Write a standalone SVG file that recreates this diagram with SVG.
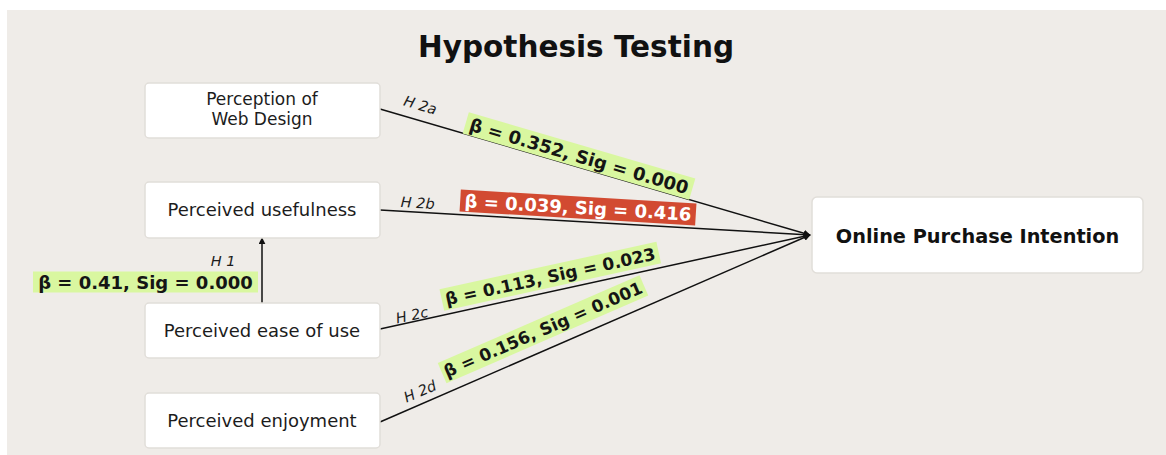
<svg xmlns="http://www.w3.org/2000/svg" width="1166" height="455" viewBox="0 0 1166 455">
  <defs>
    <style>
      .bg { fill: #efece8; }
      .node rect { fill: #ffffff; stroke: #e1ded9; stroke-width: 1.5; }
      .node text { font-family: "DejaVu Sans", "Liberation Sans", sans-serif; font-size: 18px; fill: #1c1c1c; text-anchor: middle; }
      .node.two text { font-size: 17px; }
      .node.main text { font-weight: bold; font-size: 19.3px; fill: #111111; }
      .title { font-family: "DejaVu Sans", "Liberation Sans", sans-serif; font-weight: bold; font-size: 29.5px; fill: #111111; text-anchor: middle; }
      .edge { stroke: #111111; stroke-width: 1.5; fill: none; }
      .hlab { font-family: "DejaVu Sans", "Liberation Sans", sans-serif; font-style: italic; font-size: 14.5px; fill: #1c1c1c; text-anchor: middle; }
      .stat { font-family: "DejaVu Sans", "Liberation Sans", sans-serif; font-weight: bold; font-size: 18px; fill: #151515; text-anchor: middle; }
      .stat.sm { font-size: 17px; }
      .ok { fill: #d9f7a0; }
      .bad { fill: #d24a31; }
      .stat.onbad { fill: #ffffff; }
    </style>
    <marker id="arrow" viewBox="0 0 10 10" refX="9" refY="5" markerWidth="7" markerHeight="7" markerUnits="userSpaceOnUse" orient="auto">
      <path d="M0,0 L10,5 L0,10 z" fill="#111111"/>
    </marker>
  </defs>

  <rect class="bg" x="7" y="10" width="1159" height="445"/>

  <text class="title" x="576" y="57">Hypothesis Testing</text>

  <!-- connectors -->
  <g id="connectors">
    <line class="edge" x1="380" y1="109" x2="810" y2="235" marker-end="url(#arrow)"/>
    <line class="edge" x1="380" y1="210" x2="810" y2="235" marker-end="url(#arrow)"/>
    <line class="edge" x1="380" y1="329" x2="810" y2="235" marker-end="url(#arrow)"/>
    <line class="edge" x1="380" y1="422" x2="810" y2="235" marker-end="url(#arrow)"/>
    <line class="edge" x1="262" y1="303" x2="262" y2="238" marker-end="url(#arrow)"/>

    <!-- hypothesis tags -->
    <text class="hlab" transform="translate(419,110) rotate(16)">H 2a</text>
    <text class="hlab" transform="translate(417.5,208) rotate(3)">H 2b</text>
    <text class="hlab" transform="translate(413,320) rotate(-12)">H 2c</text>
    <text class="hlab" transform="translate(422,396) rotate(-23.5)">H 2d</text>
    <text class="hlab" x="223" y="266">H 1</text>

    <!-- coefficient labels -->
    <g transform="translate(579,156) rotate(16.33)">
      <rect class="ok" x="-118" y="-11" width="236" height="22"/>
      <text class="stat" y="6.5">β = 0.352, Sig = 0.000</text>
    </g>
    <g transform="translate(578,207.5) rotate(3.4)">
      <rect class="bad" x="-118" y="-11" width="236" height="22"/>
      <text class="stat onbad" y="6.5">β = 0.039, Sig = 0.416</text>
    </g>
    <g transform="translate(550.3,276.3) rotate(-12.33)">
      <rect class="ok" x="-111" y="-11" width="222" height="22"/>
      <text class="stat sm" y="6.2">β = 0.113, Sig = 0.023</text>
    </g>
    <g transform="translate(543,329.3) rotate(-23.5)">
      <rect class="ok" x="-110" y="-11" width="220" height="22"/>
      <text class="stat sm" y="6.2">β = 0.156, Sig = 0.001</text>
    </g>
    <g transform="translate(145.5,282)">
      <rect class="ok" x="-112.5" y="-10.5" width="225" height="21"/>
      <text class="stat" y="6.5">β = 0.41, Sig = 0.000</text>
    </g>
  </g>

  <!-- nodes -->
  <g id="web-design" class="node two">
    <rect x="145" y="83" width="235" height="55" rx="4"/>
    <text x="262" y="105">Perception of</text>
    <text x="262" y="125">Web Design</text>
  </g>
  <g id="usefulness" class="node">
    <rect x="145" y="182" width="235" height="56" rx="4"/>
    <text x="262" y="216">Perceived usefulness</text>
  </g>
  <g id="ease-of-use" class="node">
    <rect x="145" y="303" width="235" height="55" rx="4"/>
    <text x="262" y="337">Perceived ease of use</text>
  </g>
  <g id="enjoyment" class="node">
    <rect x="145" y="393" width="235" height="55" rx="4"/>
    <text x="262" y="427">Perceived enjoyment</text>
  </g>
  <g id="purchase-intention" class="node main">
    <rect x="812" y="197" width="331" height="76" rx="5"/>
    <text x="977.5" y="243">Online Purchase Intention</text>
  </g>
</svg>
